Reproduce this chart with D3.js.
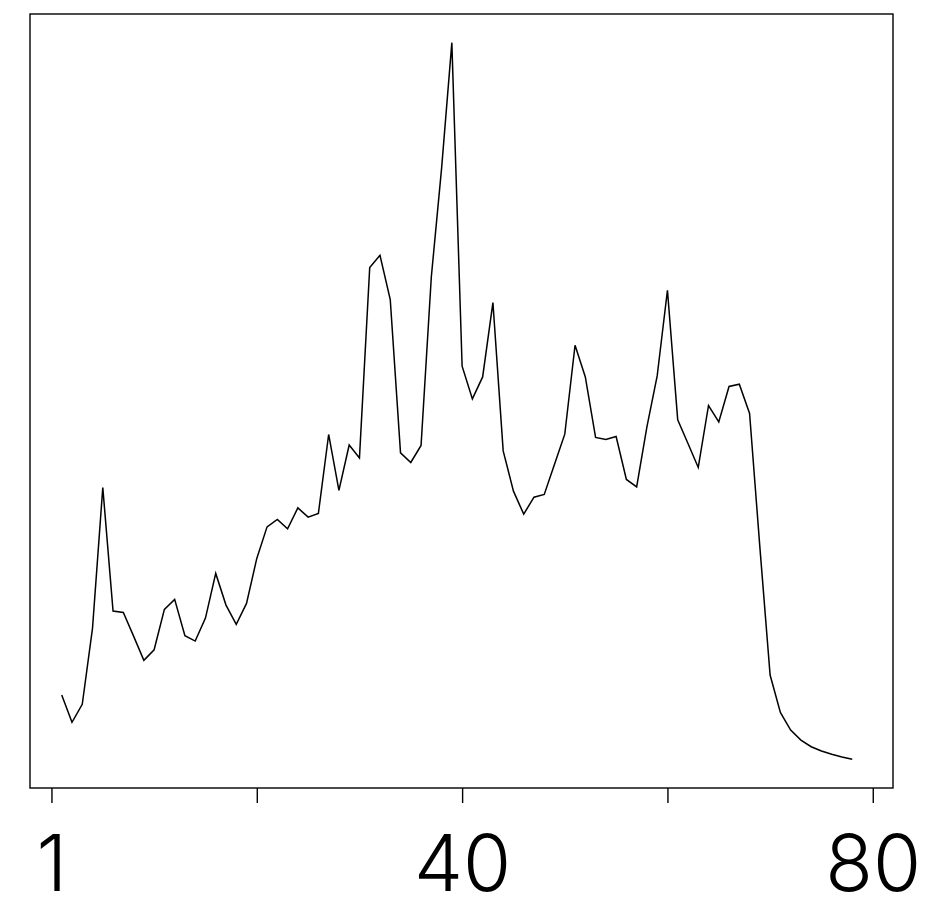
<!DOCTYPE html>
<html>
<head>
<meta charset="utf-8">
<script src="https://cdn.jsdelivr.net/npm/d3@7"></script>
<style>
  html, body { margin: 0; padding: 0; background: #ffffff; }
  svg { display: block; }
</style>
</head>
<body>
<svg id="chart" width="931" height="900"></svg>
<script>
// ---- data ----
const xIndex = d3.range(1, 79); // 78 observations
const values = [
  10.50, 7.77, 9.57, 17.20, 31.27, 18.90, 18.77, 16.40, 13.97, 15.03,
  19.07, 20.07, 16.43, 15.90, 18.20, 22.67, 19.50, 17.57, 19.67, 24.17,
  27.33, 28.07, 27.13, 29.23, 28.30, 28.67, 36.57, 30.97, 35.52, 34.23,
  53.27, 54.50, 50.07, 34.73, 33.77, 35.47, 52.33, 63.20, 75.77, 43.40,
  40.13, 42.33, 49.77, 34.93, 30.90, 28.60, 30.30, 30.57, 33.60, 36.60,
  45.50, 42.33, 36.27, 36.07, 36.37, 32.07, 31.32, 37.33, 42.43, 51.00,
  38.03, 35.67, 33.27, 39.47, 37.83, 41.37, 41.60, 38.67, 25.33, 12.50,
  8.77, 7.00, 6.00, 5.33, 4.90, 4.57, 4.30, 4.07
];
const tickValues = [0, 20, 40, 60, 80];
const tickLabels = ["1", "", "40", "", "80"];

// ---- layout ----
const mLeft = 30, mRight = 893, mTop = 14, mBottom = 788;
const svg = d3.select("#chart");

const x = d3.scaleLinear().domain([-2.09, 81.97]).range([mLeft, mRight]);
const yMin = d3.min(values), yMax = d3.max(values);
const pad = (yMax - yMin) * 0.04;
const y = d3.scaleLinear().domain([yMin - pad, yMax + pad]).range([mBottom, mTop]);

// line
const line = d3.line()
  .x((d, i) => x(xIndex[i]))
  .y(d => y(d));

svg.append("path")
  .datum(values)
  .attr("d", line)
  .attr("fill", "none")
  .attr("stroke", "#000")
  .attr("stroke-width", 1.5)
  .attr("stroke-linejoin", "miter");

// frame
svg.append("rect")
  .attr("x", mLeft).attr("y", mTop)
  .attr("width", mRight - mLeft).attr("height", mBottom - mTop)
  .attr("fill", "none")
  .attr("stroke", "#000")
  .attr("stroke-width", 1.4);

// x axis
const axis = d3.axisBottom(x)
  .tickValues(tickValues)
  .tickFormat((d, i) => tickLabels[i])
  .tickSize(15)
  .tickPadding(24);

const g = svg.append("g")
  .attr("transform", `translate(0,${mBottom})`)
  .call(axis);
g.select(".domain").remove();
g.selectAll(".tick line").attr("stroke", "#000").attr("stroke-width", 1.4);
g.selectAll(".tick text")
  .attr("fill", "#000")
  .attr("y", 103)
  .attr("dy", null)
  .style("font-family", "Inter, 'Noto Sans', sans-serif")
  .style("font-weight", 300)
  .style("font-size", "78px");
</script>
</body>
</html>
